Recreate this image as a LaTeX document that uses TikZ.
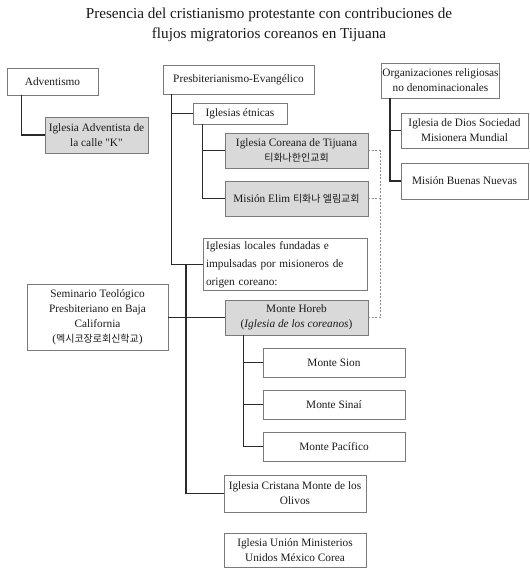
\documentclass[tikz,border=0pt]{standalone}
\usepackage{fontspec}
\setmainfont{Liberation Serif}[Ligatures=TeXOff]
\newfontfamily\kr{Noto Sans CJK KR}
\newcommand\krt[1]{{\kr\fontsize{10}{15}\selectfont #1}}
\definecolor{boxline}{HTML}{7A7A7A}
\definecolor{boxfill}{HTML}{D9D9D9}
\definecolor{connc}{HTML}{2A2A2A}
\definecolor{dashcol}{HTML}{8C8C8C}
\begin{document}
\begin{tikzpicture}[x=1pt,y=-1pt,
  box/.style={draw=boxline, line width=0.9pt, inner sep=1pt, align=center,
    font=\fontsize{11.3}{15}\selectfont, text=black!90},
  gbox/.style={box, fill=boxfill},
  conn/.style={draw=connc, line width=1.4pt},
  dashconn/.style={draw=dashcol, line width=0.7pt, dash pattern=on 2pt off 1.5pt}]
\useasboundingbox (0,0) rectangle (530,568);

\node[font=\fontsize{15.2}{20}\selectfont, align=center, text=black!90] (title) at (269,25)
  {Presencia del cristianismo protestante con contribuciones de\\flujos migratorios coreanos en Tijuana};

% left column
\node[box, minimum width=91pt, minimum height=27pt] (adv) at (52.5,81.5) {Adventismo};
\node[gbox, minimum width=103pt, minimum height=36pt] (advk) at (96.5,135) {Iglesia Adventista de\\la calle "K"};
\node[box, minimum width=141pt, minimum height=66pt] (sem) at (97.5,317.5) {Seminario Teológico\\Presbiteriano en Baja\\California\\(\krt{멕시코장로회신학교})};

% middle column
\node[box, minimum width=151pt, minimum height=29pt] (presb) at (238.5,79.5) {Presbiterianismo-Evangélico};
\node[box, minimum width=94pt, minimum height=21pt] (etn) at (240,113.5) {Iglesias étnicas};
\node[gbox, minimum width=143pt, minimum height=35pt] (cor) at (296.5,150.5) {Iglesia Coreana de Tijuana\\\krt{티화나한인교회}};
\node[gbox, minimum width=143pt, minimum height=35pt] (elim) at (296.5,198.5) {Misión Elim \krt{티화나 엘림교회}};
\node[box, text width=158pt, inner sep=3pt, minimum height=51pt, align=left,
  font=\fontsize{11.3}{18}\selectfont] (loc) at (285,264.5)
  {Iglesias locales fundadas e\\impulsadas por misioneros de\\origen coreano:};
\node[gbox, minimum width=143pt, minimum height=35pt] (hor) at (296.5,317.5) {Monte Horeb\\(\textit{Iglesia de los coreanos})};
\node[box, minimum width=142pt, minimum height=29pt] (sion) at (334,362.5) {Monte Sion};
\node[box, minimum width=142pt, minimum height=29pt] (sinai) at (334,404.5) {Monte Sinaí};
\node[box, minimum width=142pt, minimum height=29pt] (pac) at (334,446.5) {Monte Pacífico};
\node[box, minimum width=142pt, minimum height=37pt] (cris) at (295,493.5) {Iglesia Cristana Monte de los\\Olivos};
\node[box, minimum width=142pt, minimum height=34pt] (union) at (295,550) {Iglesia Unión Ministerios\\Unidos México Corea};

% right column
\node[box, minimum width=115pt, minimum height=35pt] (org) at (440.5,80.5) {Organizaciones religiosas\\no denominacionales};
\node[box, minimum width=127pt, minimum height=35pt] (dios) at (464.5,130.5) {Iglesia de Dios Sociedad\\Misionera Mundial};
\node[box, minimum width=127pt, minimum height=36pt] (buenas) at (464.5,181) {Misión Buenas Nuevas};

% connectors
\draw[conn] ([xshift=15pt]adv.south west) |- (advk.west);

\draw[conn] ([xshift=9pt]presb.south west) |- (loc.west);
\draw[conn] ([xshift=9pt]presb.south west) |- (etn.west);
\draw[conn] ([xshift=10pt]etn.south west) |- (cor.west);
\draw[conn] ([xshift=10pt]etn.south west) |- (elim.west);

\coordinate (jloc) at (186,264.5);
\draw[conn] (jloc) |- (cris.west);
\draw[conn] (sem.east) -- (hor.west);

\draw[conn] ([xshift=19pt]hor.south west) |- (sion.west);
\draw[conn] ([xshift=19pt]hor.south west) |- (sinai.west);
\draw[conn] ([xshift=19pt]hor.south west) |- (pac.west);

\draw[conn] ([xshift=9pt]org.south west) |- (dios.west);
\draw[conn] ([xshift=9pt]org.south west) |- (buenas.west);

\draw[dashconn] (cor.east) -- ++(12pt,0) |- (hor.east);
\draw[dashconn] (elim.east) -- ++(12pt,0);
\end{tikzpicture}
\end{document}
